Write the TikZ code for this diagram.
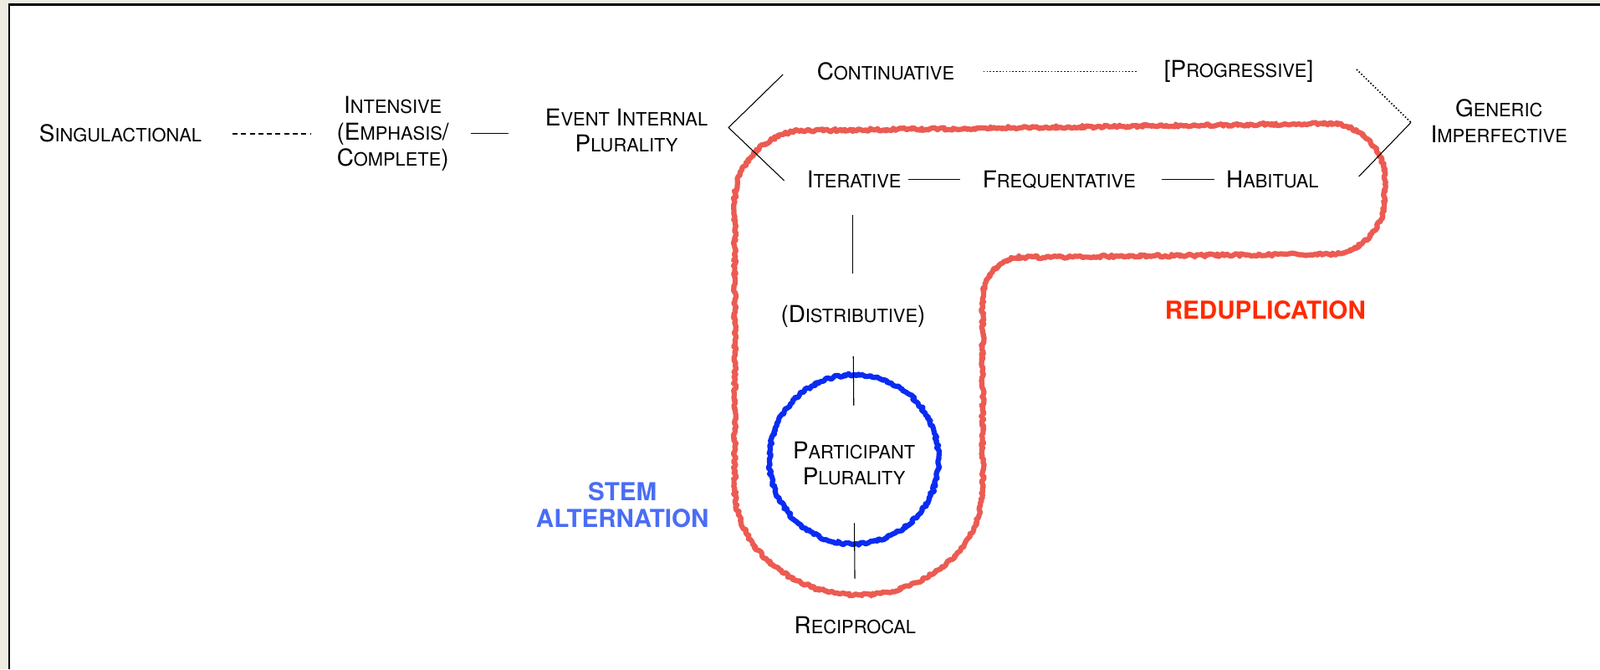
\documentclass[tikz,border=0pt]{standalone}
\usepackage{fontspec}
\setmainfont{TeX Gyre Heros}
\usepackage{tikz}
\usetikzlibrary{calc, decorations.pathmorphing}
\usepackage{xcolor}
\definecolor{frameBeige}{HTML}{EEEBE3}
\definecolor{redupRed}{HTML}{EC5B52}
\definecolor{redupText}{HTML}{FF2A00}
\definecolor{stemBlue}{HTML}{0A2CF2}
\definecolor{stemText}{HTML}{4A6DF5}
\newcommand{\sml}[1]{{\fontsize{10.2pt}{14.5pt}\selectfont #1}}

\begin{document}
\begin{tikzpicture}[
    x=0.02cm, y=-0.02cm,
    term/.style={inner sep=0pt, align=center, font=\fontsize{13pt}{14.5pt}\selectfont},
    biglabel/.style={inner sep=0pt, align=center, font=\fontsize{13.8pt}{14.8pt}\selectfont\bfseries},
    link/.style={line width=0.5pt},
    dashlink/.style={line width=0.9pt, dash pattern=on 2.8pt off 2pt},
    dotlink/.style={line width=0.8pt, dash pattern=on 0.7pt off 1.1pt},
    redup/.style={draw=redupRed, line width=2.9pt, line join=round, line cap=round, decorate, decoration={random steps, segment length=1.1pt, amplitude=0.8pt}},
    stemring/.style={draw=stemBlue, line width=2.9pt, line join=round, line cap=round, decorate, decoration={random steps, segment length=1.1pt, amplitude=0.8pt}},
]
    \useasboundingbox (0,0) rectangle (1568,656);
    \fill[frameBeige] (0,0) rectangle (1568,656);
    \fill[white] (9,4.5) rectangle (1568,656);
    \draw[line width=1.1pt] (9,656) -- (9,4.5) -- (1568,4.5);

    \draw[redup] (720,420) -- (720,198) arc[start angle=180, end angle=270, radius=70]
        -- (1302,121) arc[start angle=270, end angle=360, radius=55]
        -- (1357,194) arc[start angle=0, end angle=90, radius=55]
        -- (1003,252) arc[start angle=270, end angle=180, radius=40]
        -- (963,478) arc[start angle=0, end angle=180, x radius=121.5, y radius=105]
        -- cycle;

    \node[term] (sing) at (118,131) {S\sml{INGULACTIONAL}};
    \node[term] (intens) at (385,131) {I\sml{NTENSIVE}\\(E\sml{MPHASIS}/\\C\sml{OMPLETE})};
    \node[term] (evt) at (614,128) {E\sml{VENT} I\sml{NTERNAL}\\P\sml{LURALITY}};
    \node[term] (cont) at (868,70) {C\sml{ONTINUATIVE}};
    \node[term] (prog) at (1214,70) {[P\sml{ROGRESSIVE}]};
    \node[term] (gen) at (1469,119) {G\sml{ENERIC}\\I\sml{MPERFECTIVE}};
    \node[term] (iter) at (837,176) {I\sml{TERATIVE}};
    \node[term] (freq) at (1038,176) {F\sml{REQUENTATIVE}};
    \node[term] (hab) at (1247,176) {H\sml{ABITUAL}};
    \node[term] (dist) at (836,310) {(D\sml{ISTRIBUTIVE})};
    \node[term] (part) at (837,454) {P\sml{ARTICIPANT}\\P\sml{LURALITY}};
    \node[term] (recip) at (838,613) {R\sml{ECIPROCAL}};

    \node[biglabel, text=redupText] (redlabel) at (1240,304) {REDUPLICATION};
    \node[biglabel, text=stemText] (stemlabel) at (610,495) {STEM\\ALTERNATION};

    \draw[stemring] ($(part.center)+(0,-4)$) circle[radius=83];

    \coordinate (efork) at ($(evt.east)+(20,-3)$);
    \coordinate (contend) at ($(cont.west)+(-33,3)$);
    \coordinate (iterend) at ($(iter.west)+(-22,1)$);
    \coordinate (gfork) at ($(gen.west)+(-19,1)$);
    \coordinate (progend) at ($(prog.east)+(42,-2)$);
    \coordinate (habend) at ($(hab.east)+(39,-3)$);

    \draw[dashlink, shorten <=0.6cm, shorten >=0.5cm] (sing) -- (intens);
    \draw[link, shorten <=0.42cm, shorten >=0.72cm] (intens.east) -- (intens.east -| evt.west);
    \draw[link] (contend) -- (efork) -- (iterend);
    \draw[dotlink, shorten <=0.56cm, shorten >=0.54cm] (cont) -- (prog);
    \draw[dotlink] (progend) -- (gfork);
    \draw[link] (gfork) -- (habend);
    \draw[link, shorten <=0.14cm, shorten >=0.44cm] (iter) -- (freq);
    \draw[link, shorten <=0.5cm, shorten >=0.22cm] (freq) -- (hab);
    \draw[link, shorten <=0.52cm, shorten >=0.62cm] (dist.north |- iter.south) -- (dist.north);
    \draw[link, shorten <=0.56cm, shorten >=0.7cm] (dist.south) -- (part.north);
    \draw[link, shorten <=0.74cm, shorten >=0.74cm] (part.south) -- (recip.north);
\end{tikzpicture}
\end{document}
